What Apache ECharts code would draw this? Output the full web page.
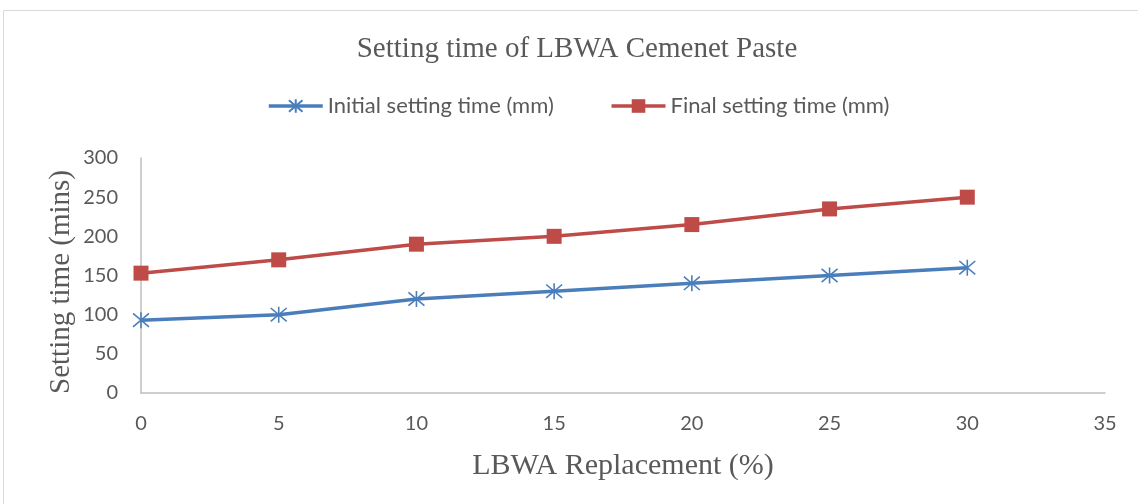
<!DOCTYPE html>
<html>
<head>
<meta charset="utf-8">
<script src="https://cdn.jsdelivr.net/npm/echarts@6/dist/echarts.min.js"></script>
<style>
  html, body { margin: 0; padding: 0; background: #fff; }
  #chart { width: 1138px; height: 504px; }
</style>
</head>
<body>
<div id="chart"></div>
<script>
// LBWA replacement levels (%)
const replacement = [0, 5, 10, 15, 20, 25, 30];
// Setting times (mins)
const initialSetting = [93, 100, 120, 130, 140, 150, 160];
const finalSetting = [153, 170, 190, 200, 215, 235, 250];
const seriesNames = ['Initial setting time (mm)', 'Final setting time (mm)'];

const asterisk = 'path://M0,0L10,10M0,10L10,0M5,-1L5,11';
const tickFont = 'Lato';
const titleFont = 'Liberation Serif';
const textColor = '#595959';

const chart = echarts.init(document.getElementById('chart'));
chart.setOption({
  animation: false,
  backgroundColor: '#ffffff',
  graphic: [
    {
      type: 'rect',
      shape: { x: 3.5, y: 10.5, width: 1200, height: 600 },
      style: { fill: 'none', stroke: '#d9d9d9', lineWidth: 1 },
      silent: true
    },
    {
      // vertical axis title
      type: 'text',
      x: 61,
      y: 282,
      rotation: Math.PI / 2,
      style: {
        text: 'Setting time (mins)',
        fontFamily: titleFont,
        fontSize: 29,
        fill: textColor,
        align: 'center',
        verticalAlign: 'middle'
      },
      silent: true
    }
  ],
  title: {
    text: 'Setting time of LBWA Cemenet Paste',
    left: 572,
    textAlign: 'center',
    top: 30,
    textStyle: { fontFamily: titleFont, fontSize: 29, fontWeight: 'normal', color: textColor }
  },
  legend: {
    top: 90,
    left: 262,
    itemWidth: 54,
    itemHeight: 17,
    itemGap: 56,
    lineStyle: { width: 3.5 },
    textStyle: { fontFamily: tickFont, fontSize: 22, color: textColor },
    data: seriesNames
  },
  grid: { left: 141, right: 33, top: 158, bottom: 111, containLabel: false },
  xAxis: {
    type: 'value',
    min: 0, max: 35, interval: 5,
    name: 'LBWA Replacement (%)',
    nameLocation: 'middle',
    nameGap: 58,
    nameTextStyle: { fontFamily: titleFont, fontSize: 30, color: textColor },
    axisLine: { lineStyle: { color: '#bfbfbf', width: 1.5 } },
    axisTick: { show: false },
    splitLine: { show: false },
    axisLabel: { fontFamily: tickFont, fontSize: 20, color: textColor, margin: 21 }
  },
  yAxis: {
    type: 'value',
    min: 0, max: 300, interval: 50,
    axisLine: { show: true, lineStyle: { color: '#bfbfbf', width: 1.5 } },
    axisTick: { show: false },
    splitLine: { show: false },
    axisLabel: { fontFamily: tickFont, fontSize: 20, color: textColor, margin: 23 }
  },
  series: [
    {
      name: seriesNames[0],
      type: 'line',
      data: replacement.map((x, i) => [x, initialSetting[i]]),
      symbol: asterisk,
      symbolSize: 16,
      lineStyle: { color: '#4a7ebb', width: 3.5 },
      itemStyle: { color: 'rgba(0,0,0,0)', borderColor: '#4a7ebb', borderWidth: 1.6 }
    },
    {
      name: seriesNames[1],
      type: 'line',
      data: replacement.map((x, i) => [x, finalSetting[i]]),
      symbol: 'rect',
      symbolSize: 15,
      lineStyle: { color: '#be4b48', width: 3.5 },
      itemStyle: { color: '#be4b48', borderWidth: 0 }
    }
  ]
});
</script>
</body>
</html>
